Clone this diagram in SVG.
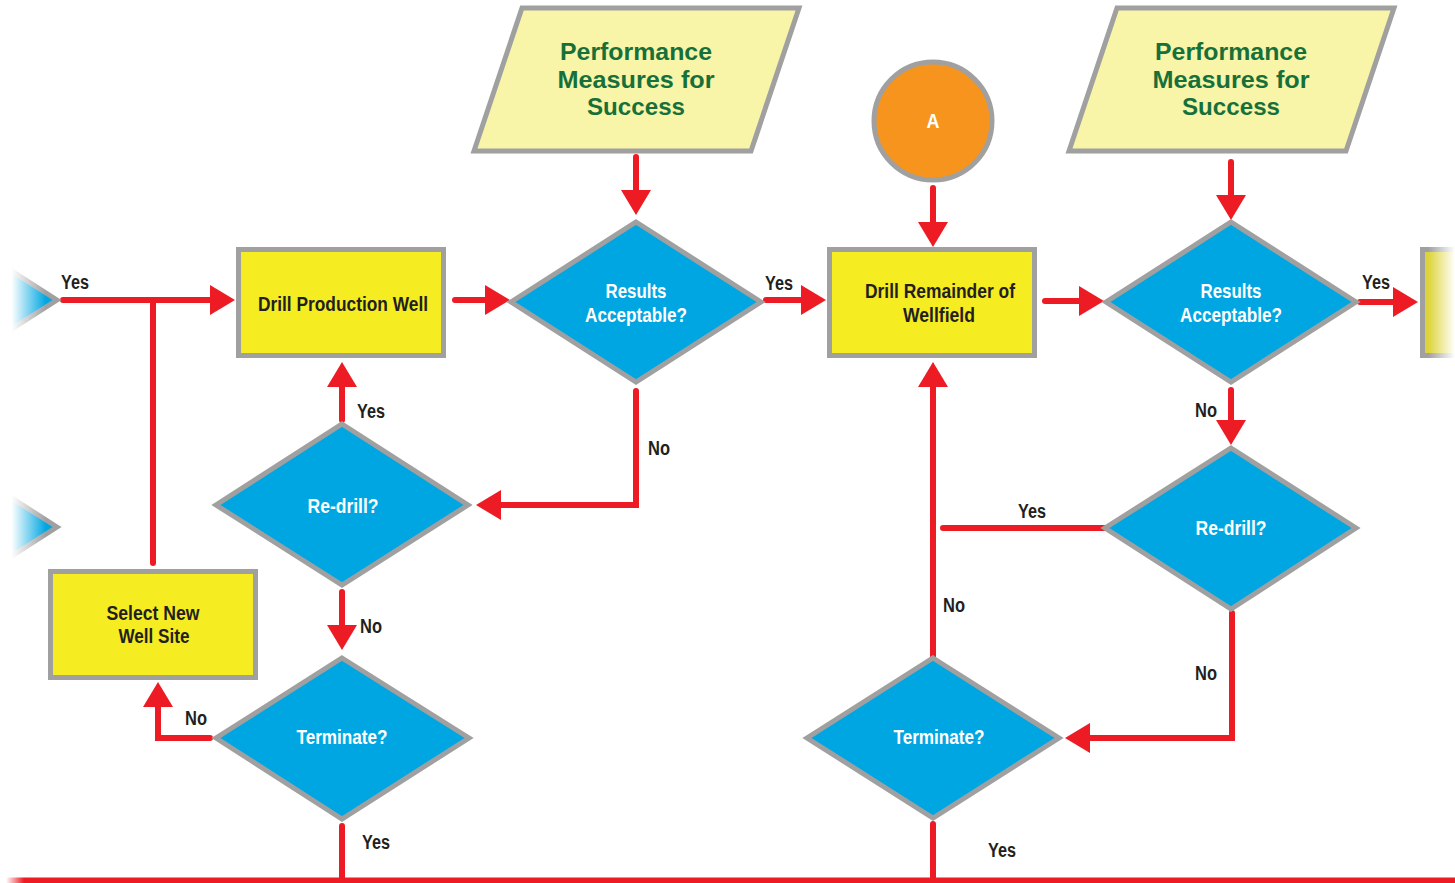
<svg xmlns="http://www.w3.org/2000/svg" width="1455" height="883" viewBox="0 0 1455 883">
<style>
.box{fill:#f5ec22;stroke:#a0a0a0;stroke-width:5}
.dia{fill:#00a6e2;stroke:#a0a0a0;stroke-width:5;stroke-linejoin:miter}
.para{fill:#f8f5a8;stroke:#a0a0a0;stroke-width:5}
.circ{fill:#f7941d;stroke:#a0a0a0;stroke-width:5}
.t{font-family:"Liberation Sans",Arial,sans-serif;font-weight:bold;font-size:21px;text-anchor:middle;fill:#231f20}
.w{fill:#ffffff}
.g{fill:#17703a;font-size:24px}
.lbl{font-family:"Liberation Sans",Arial,sans-serif;font-weight:bold;font-size:20px;fill:#231f20}
.c{fill:none;stroke:#ed1c24;stroke-width:6;stroke-linecap:round;stroke-linejoin:miter}
.a{marker-end:url(#ah)}
</style>
<defs>
<marker id="ah" markerUnits="userSpaceOnUse" markerWidth="26" markerHeight="30" refX="3" refY="15" orient="auto" viewBox="0 0 26 30">
<path d="M0,0 L25,15 L0,30 Z" fill="#ed1c24"/>
</marker>
<linearGradient id="fadeL" x1="0" y1="0" x2="1" y2="0">
<stop offset="0" stop-color="#fff" stop-opacity="1"/>
<stop offset="0.25" stop-color="#fff" stop-opacity="1"/>
<stop offset="1" stop-color="#fff" stop-opacity="0"/>
</linearGradient>
<linearGradient id="fadeR" x1="0" y1="0" x2="1" y2="0">
<stop offset="0" stop-color="#fff" stop-opacity="0"/>
<stop offset="1" stop-color="#fff" stop-opacity="1"/>
</linearGradient>
<linearGradient id="boxR" x1="0" y1="0" x2="1" y2="0">
<stop offset="0" stop-color="#dcd23a"/>
<stop offset="1" stop-color="#f5ec22"/>
</linearGradient>
</defs>

<g id="connectors">
<path class="c a" d="M63,300 H213"/>
<path class="c" d="M153,563 V300"/>
<path class="c a" d="M455,300 H488"/>
<path class="c a" d="M636,157 V193"/>
<path class="c a" d="M766,300 H804"/>
<path class="c a" d="M636,391 V505 H498"/>
<path class="c a" d="M342,420 V384"/>
<path class="c a" d="M342,592 V628"/>
<path class="c a" d="M210,738 H158 V704"/>
<path class="c" d="M342,826 V880"/>
<path class="c a" d="M933,188 V225"/>
<path class="c a" d="M1045,301 H1082"/>
<path class="c a" d="M1231,162 V198"/>
<path class="c a" d="M1360,302 H1396"/>
<path class="c a" d="M1231,390 V423"/>
<path class="c" d="M1105,528 H943"/>
<path class="c a" d="M933,657 V384"/>
<path class="c a" d="M1232,613 V738 H1087"/>
<path class="c" d="M933,824 V880"/>
<path d="M6,880.5 H1460" stroke="#ed1c24" stroke-width="6" fill="none"/>
<rect x="0" y="870" width="24" height="13" fill="url(#fadeL)"/>
</g>

<g id="offL1">
<polygon class="dia" points="57,300 -68,220 -193,300 -68,380"/>
<rect x="0" y="260" width="46" height="80" fill="url(#fadeL)"/>
</g>
<g id="offL2">
<polygon class="dia" points="57,527 -68,447 -193,527 -68,607"/>
<rect x="0" y="487" width="46" height="80" fill="url(#fadeL)"/>
</g>

<g id="drillWell">
<rect class="box" x="238.5" y="249.5" width="205" height="106"/>
<text class="t" x="343" y="311" textLength="170" lengthAdjust="spacingAndGlyphs">Drill Production Well</text>
</g>

<g id="perf1">
<polygon class="para" points="522,8 799,8 751,151 474,151"/>
<text class="t g" x="636" y="60" textLength="152" lengthAdjust="spacingAndGlyphs">Performance</text>
<text class="t g" x="636" y="88" textLength="157" lengthAdjust="spacingAndGlyphs">Measures for</text>
<text class="t g" x="636" y="115" textLength="98" lengthAdjust="spacingAndGlyphs">Success</text>
</g>

<g id="results1">
<polygon class="dia" points="636,222 761,302 636,382 511,302"/>
<text class="t w" x="636" y="298" textLength="61" lengthAdjust="spacingAndGlyphs">Results</text>
<text class="t w" x="636" y="322" textLength="102" lengthAdjust="spacingAndGlyphs">Acceptable?</text>
</g>

<g id="redrill1">
<polygon class="dia" points="342,424 468,505 342,585 216,505"/>
<text class="t w" x="343" y="513" textLength="71" lengthAdjust="spacingAndGlyphs">Re-drill?</text>
</g>

<g id="terminate1">
<polygon class="dia" points="342,658 469,738 342,819 216,738"/>
<text class="t w" x="342" y="744" textLength="91" lengthAdjust="spacingAndGlyphs">Terminate?</text>
</g>

<g id="selectSite">
<rect class="box" x="50.5" y="571.5" width="205" height="106"/>
<text class="t" x="153" y="620" textLength="93" lengthAdjust="spacingAndGlyphs">Select New</text>
<text class="t" x="154" y="643" textLength="71" lengthAdjust="spacingAndGlyphs">Well Site</text>
</g>

<g id="circleA">
<circle class="circ" cx="933" cy="121" r="59"/>
<text class="t w" x="933" y="128" font-size="20" textLength="13" lengthAdjust="spacingAndGlyphs">A</text>
</g>

<g id="drillRemainder">
<rect class="box" x="829.5" y="249.5" width="205" height="106"/>
<text class="t" x="940" y="298" textLength="150" lengthAdjust="spacingAndGlyphs">Drill Remainder of</text>
<text class="t" x="939" y="322" textLength="72" lengthAdjust="spacingAndGlyphs">Wellfield</text>
</g>

<g id="perf2">
<polygon class="para" points="1117,8 1394,8 1346,151 1069,151"/>
<text class="t g" x="1231" y="60" textLength="152" lengthAdjust="spacingAndGlyphs">Performance</text>
<text class="t g" x="1231" y="88" textLength="157" lengthAdjust="spacingAndGlyphs">Measures for</text>
<text class="t g" x="1231" y="115" textLength="98" lengthAdjust="spacingAndGlyphs">Success</text>
</g>

<g id="results2">
<polygon class="dia" points="1231,222 1356,302 1231,382 1106,302"/>
<text class="t w" x="1231" y="298" textLength="61" lengthAdjust="spacingAndGlyphs">Results</text>
<text class="t w" x="1231" y="322" textLength="102" lengthAdjust="spacingAndGlyphs">Acceptable?</text>
</g>

<g id="redrill2">
<polygon class="dia" points="1231,448 1356,528 1231,609 1105,528"/>
<text class="t w" x="1231" y="535" textLength="71" lengthAdjust="spacingAndGlyphs">Re-drill?</text>
</g>

<g id="terminate2">
<polygon class="dia" points="933,658 1059,738 933,818 807,738"/>
<text class="t w" x="939" y="744" textLength="91" lengthAdjust="spacingAndGlyphs">Terminate?</text>
</g>

<g id="offR">
<rect x="1422.5" y="249.5" width="210" height="106" fill="url(#boxR)" stroke="#a0a0a0" stroke-width="5"/>
<rect x="1428" y="245" width="27" height="116" fill="url(#fadeR)"/>
</g>

<g id="labels">
<text class="lbl" x="61" y="289" textLength="28" lengthAdjust="spacingAndGlyphs">Yes</text>
<text class="lbl" x="357" y="418" textLength="28" lengthAdjust="spacingAndGlyphs">Yes</text>
<text class="lbl" x="648" y="455" textLength="22" lengthAdjust="spacingAndGlyphs">No</text>
<text class="lbl" x="765" y="290" textLength="28" lengthAdjust="spacingAndGlyphs">Yes</text>
<text class="lbl" x="360" y="633" textLength="22" lengthAdjust="spacingAndGlyphs">No</text>
<text class="lbl" x="185" y="725" textLength="22" lengthAdjust="spacingAndGlyphs">No</text>
<text class="lbl" x="362" y="849" textLength="28" lengthAdjust="spacingAndGlyphs">Yes</text>
<text class="lbl" x="1362" y="289" textLength="28" lengthAdjust="spacingAndGlyphs">Yes</text>
<text class="lbl" x="1195" y="417" textLength="22" lengthAdjust="spacingAndGlyphs">No</text>
<text class="lbl" x="1018" y="518" textLength="28" lengthAdjust="spacingAndGlyphs">Yes</text>
<text class="lbl" x="943" y="612" textLength="22" lengthAdjust="spacingAndGlyphs">No</text>
<text class="lbl" x="1195" y="680" textLength="22" lengthAdjust="spacingAndGlyphs">No</text>
<text class="lbl" x="988" y="857" textLength="28" lengthAdjust="spacingAndGlyphs">Yes</text>
</g>
</svg>
